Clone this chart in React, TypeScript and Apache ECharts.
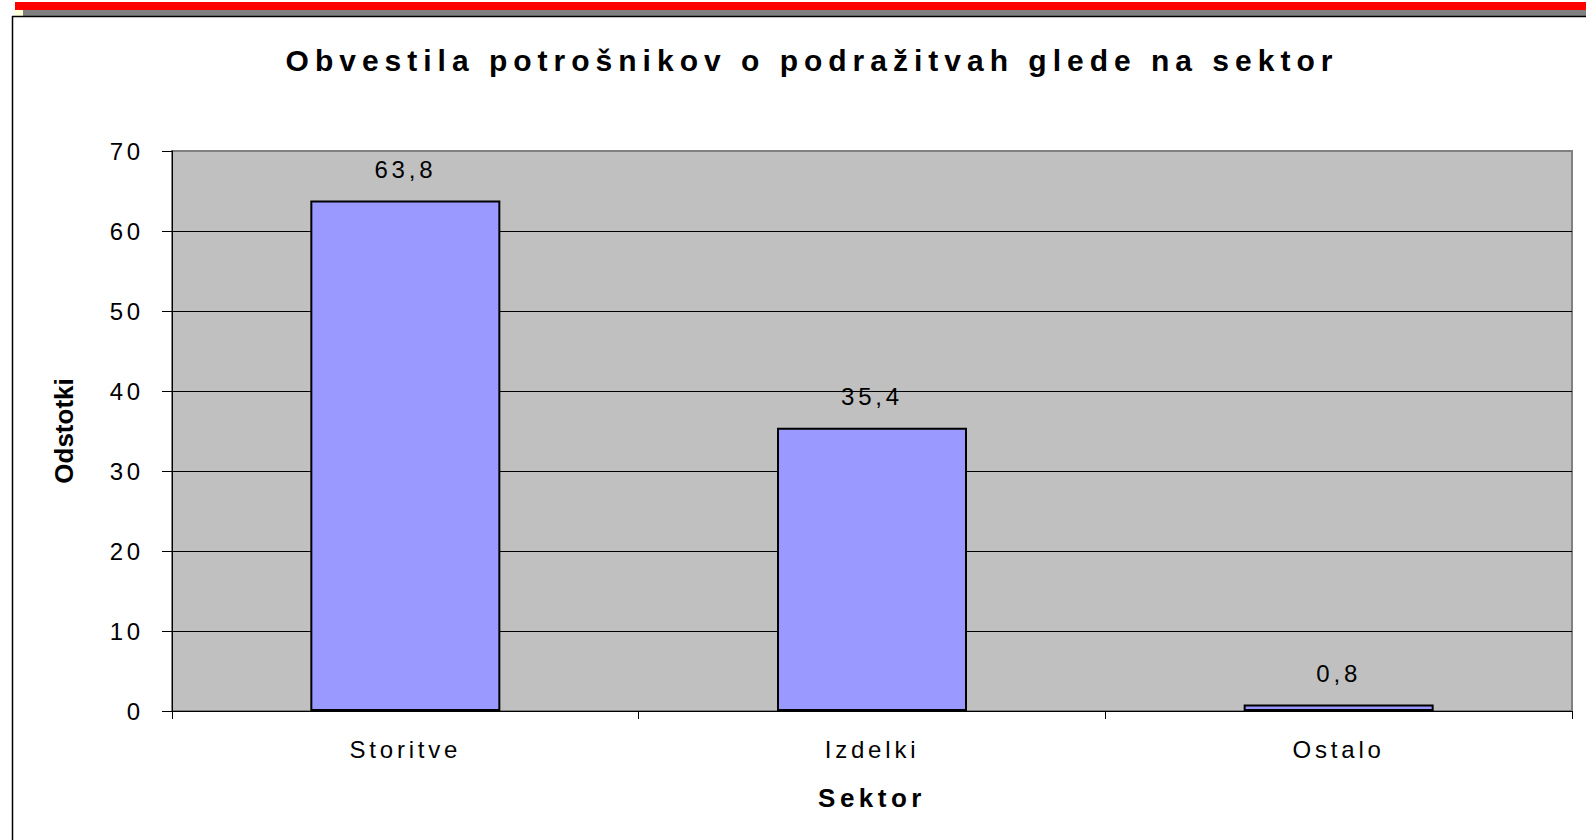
import React, { useEffect, useRef } from "react";
import * as echarts from "echarts";

const titleText = "Obvestila potrošnikov o podražitvah glede na sektor";
const categories = ["Storitve", "Izdelki", "Ostalo"];
const values = [63.8, 35.4, 0.8];
const yAxisName = "Odstotki";
const xAxisName = "Sektor";
const yMin = 0;
const yMax = 70;
const yInterval = 10;

const FONT = "'Liberation Sans', Arial, sans-serif";

export default function App() {
  const ref = useRef<HTMLDivElement>(null);
  useEffect(() => {
    if (!ref.current) return;
    const chart = echarts.init(ref.current, null, { renderer: "svg" });
    const option: any = {
      animation: false,
      backgroundColor: "#FFFFFF",
      textStyle: { fontFamily: FONT },
      title: {
        text: titleText,
        left: 807,
        top: 40,
        textAlign: "center",
        textStyle: { fontFamily: FONT, fontSize: 30, fontWeight: "bold", color: "#000" },
      },
      graphic: [
        { type: "rect", shape: { x: 15, y: 2, width: 1571, height: 8 }, style: { fill: "#FF0000" }, silent: true },
        { type: "rect", shape: { x: 23, y: 10, width: 1563, height: 6 }, style: { fill: "#808080" }, silent: true },
        { type: "rect", shape: { x: 15, y: 10, width: 8, height: 6 }, style: { fill: "#FFFFD8" }, silent: true },
        { type: "line", shape: { x1: 12, y1: 16.5, x2: 1586, y2: 16.5 }, style: { stroke: "#000", lineWidth: 1.5 }, silent: true },
        { type: "line", shape: { x1: 12.5, y1: 16, x2: 12.5, y2: 840 }, style: { stroke: "#000", lineWidth: 1.5 }, silent: true },
      ],
      grid: {
        left: 172,
        top: 151,
        width: 1400,
        height: 560,
        show: true,
        backgroundColor: "#C0C0C0",
        borderColor: "#808080",
        borderWidth: 2,
      },
      xAxis: {
        type: "category",
        data: categories,
        name: xAxisName,
        nameLocation: "middle",
        nameGap: 74,
        nameTextStyle: { fontFamily: FONT, fontSize: 26, fontWeight: "bold", color: "#000" },
        axisLine: { show: true, lineStyle: { color: "#000", width: 1 } },
        axisTick: { show: true, length: 8, alignWithLabel: false, lineStyle: { color: "#000" } },
        axisLabel: { fontFamily: FONT, fontSize: 24, color: "#000", margin: 26 },
        splitLine: { show: false },
      },
      yAxis: {
        type: "value",
        min: yMin,
        max: yMax,
        interval: yInterval,
        name: yAxisName,
        nameLocation: "middle",
        nameGap: 95,
        nameRotate: 90,
        nameTextStyle: { fontFamily: FONT, fontSize: 26, fontWeight: "bold", color: "#000" },
        axisLine: { show: true, lineStyle: { color: "#000", width: 1 } },
        axisTick: { show: true, length: 10, lineStyle: { color: "#000" } },
        axisLabel: { fontFamily: FONT, fontSize: 24, color: "#000", margin: 28 },
        splitLine: {
          show: true,
          lineStyle: {
            color: ["#000", "#000", "#000", "#000", "#000", "#000", "#000", "#808080"],
            width: 1,
          },
        },
      },
      series: [
        {
          type: "bar",
          data: values,
          barWidth: 190,
          silent: true,
          itemStyle: { color: "#9999FF", borderColor: "#000", borderWidth: 2 },
          label: {
            show: true,
            position: "top",
            distance: 19,
            fontFamily: FONT,
            fontSize: 24,
            color: "#000",
            formatter: (p: any) => String(p.value).replace(".", ","),
          },
        },
      ],
    };
    chart.setOption(option);
    const texts = ref.current.querySelectorAll("text");
    texts.forEach((t) => {
      const s = (t.textContent || "").trim();
      let ls = "3.8px";
      if (s === titleText) ls = "6px";
      else if (s === yAxisName) ls = "0px";
      else if (s === xAxisName) ls = "4.5px";
      (t as SVGTextElement).style.letterSpacing = ls;
    });
    return () => chart.dispose();
  }, []);
  return (
    <div
      ref={ref}
      style={{ position: "fixed", left: 0, top: 0, width: 1586, height: 840 }}
    />
  );
}
